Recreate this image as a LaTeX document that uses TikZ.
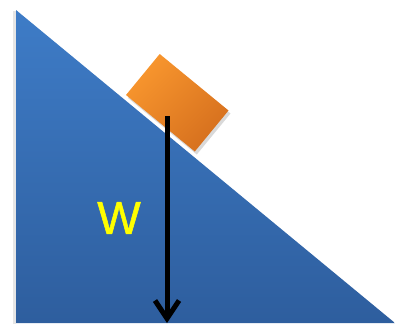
\documentclass[tikz,border=0pt]{standalone}
\usepackage{fontspec}
\setmainfont{Liberation Sans}
\newfontfamily\wfont[FakeBold=1.2]{Liberation Sans}
\usetikzlibrary{arrows.meta,calc}
\definecolor{slopetop}{RGB}{62,124,199}
\definecolor{slopebot}{RGB}{46,94,158}
\definecolor{blocklight}{RGB}{248,150,46}
\definecolor{blockdark}{RGB}{214,112,30}
\definecolor{wyellow}{RGB}{255,255,0}

\begin{document}
\begin{tikzpicture}[x=1pt,y=-1pt,
  weight/.style={line width=5pt, -{Straight Barb[length=18pt,width=24pt,line width=5pt]}},
  label/.style={text=wyellow, font=\wfont\fontsize{46}{46}\selectfont, inner sep=0pt}]
\useasboundingbox (0,0) rectangle (395,327);
% incline
\fill[gray!40, opacity=0.5] (13,11) -- (13,324) -- (16,324) -- (16,11) -- cycle;
\shade[top color=slopetop, bottom color=slopebot] (16,10) -- (16,323) -- (395,323) -- cycle;
% block on the slope
\coordinate (L) at (126,95);
\coordinate (B) at (194.8,151.5);
\coordinate (R) at (228.5,110.5);
\coordinate (T) at (159.7,54);
\fill[black, opacity=0.15] ($(L)+(2,3)$) -- ($(T)+(2,3)$) -- ($(R)+(2,3)$) -- ($(B)+(2,3)$) -- cycle;
\shade[top color=blocklight, bottom color=blockdark, shading angle=45] (L) -- (T) -- (R) -- (B) -- cycle;
% weight
\coordinate (wtop) at (167,116);
\coordinate (wend) at (167,323);
\draw[weight] (wtop) -- (wend);
\node[label] (wlabel) at (119,218) {W};
\end{tikzpicture}
\end{document}
